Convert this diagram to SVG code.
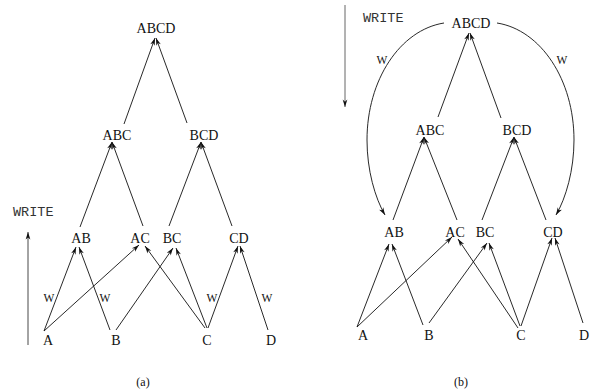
<svg xmlns="http://www.w3.org/2000/svg" width="590" height="390" viewBox="0 0 590 390">
<style>
.n{font-family:"Liberation Serif","Times New Roman",serif;font-size:14px;text-anchor:middle;fill:#111}
.w{font-family:"Liberation Serif","Times New Roman",serif;font-size:11.5px;text-anchor:middle;fill:#111}
.m{font-family:"Liberation Mono","Courier New",monospace;font-size:13.5px;fill:#333}
.c line,.c path{stroke:#111;stroke-width:0.9;fill:none;marker-end:url(#ah)}
</style>
<defs>
<marker id="ah" markerUnits="userSpaceOnUse" markerWidth="10" markerHeight="8" viewBox="-7 -3 8 6" refX="0" refY="0" orient="auto">
<path d="M0,0 L-6,-1.9 L-4.3,0 L-6,1.9 Z" fill="#111"/>
</marker>
</defs>
<g id="panel-a">
<g id="a-ABCD"><text class="n" x="156" y="33">ABCD</text></g>
<g id="a-ABC"><text class="n" x="117" y="140">ABC</text></g>
<g id="a-BCD"><text class="n" x="204" y="140">BCD</text></g>
<g id="a-AB"><text class="n" x="81" y="243">AB</text></g>
<g id="a-AC"><text class="n" x="140" y="243">AC</text></g>
<g id="a-BC"><text class="n" x="172" y="243">BC</text></g>
<g id="a-CD"><text class="n" x="239" y="243">CD</text></g>
<g id="a-A"><text class="n" x="48" y="345">A</text></g>
<g id="a-B"><text class="n" x="116" y="345">B</text></g>
<g id="a-C"><text class="n" x="207" y="345">C</text></g>
<g id="a-D"><text class="n" x="271" y="345">D</text></g>
<text class="m" x="13" y="216">WRITE</text>
<text class="n" x="143" y="386" style="font-size:12px">(a)</text>
</g>
<g id="panel-b">
<g id="b-ABCD"><text class="n" x="471" y="28">ABCD</text></g>
<g id="b-ABC"><text class="n" x="430" y="135">ABC</text></g>
<g id="b-BCD"><text class="n" x="517" y="135">BCD</text></g>
<g id="b-AB"><text class="n" x="394" y="237">AB</text></g>
<g id="b-AC"><text class="n" x="455" y="237">AC</text></g>
<g id="b-BC"><text class="n" x="485" y="237">BC</text></g>
<g id="b-CD"><text class="n" x="553" y="237">CD</text></g>
<g id="b-A"><text class="n" x="363" y="340">A</text></g>
<g id="b-B"><text class="n" x="429" y="340">B</text></g>
<g id="b-C"><text class="n" x="521" y="340">C</text></g>
<g id="b-D"><text class="n" x="584" y="340">D</text></g>
<text class="m" x="363" y="22">WRITE</text>
<text class="n" x="461" y="386" style="font-size:12px">(b)</text>
</g>
<g id="connectors" class="c">
<line x1="28" y1="345" x2="28" y2="232" style="stroke:#333"/>
<line x1="124" y1="124" x2="155" y2="38"/>
<line x1="187" y1="123" x2="156" y2="38"/>
<line x1="80" y1="227" x2="112" y2="142"/>
<line x1="143" y1="226" x2="112" y2="142"/>
<line x1="169" y1="226" x2="201" y2="142"/>
<line x1="232" y1="226" x2="201" y2="142"/>
<line x1="44" y1="331" x2="76" y2="247"/>
<line x1="110" y1="330" x2="79" y2="247"/>
<line x1="44" y1="331" x2="139" y2="245"/>
<line x1="205" y1="328" x2="145" y2="246"/>
<line x1="116" y1="330" x2="173" y2="248"/>
<line x1="207" y1="328" x2="176" y2="248"/>
<line x1="208" y1="328" x2="238" y2="246"/>
<line x1="268" y1="330" x2="240" y2="246"/>
<line x1="345" y1="5" x2="345" y2="107" style="stroke:#555"/>
<line x1="438" y1="117" x2="469" y2="33"/>
<line x1="501" y1="118" x2="470" y2="33"/>
<line x1="393" y1="220" x2="424" y2="137"/>
<line x1="457" y1="220" x2="424" y2="137"/>
<line x1="482" y1="220" x2="514" y2="137"/>
<line x1="546" y1="220" x2="514" y2="137"/>
<line x1="357" y1="327" x2="389" y2="244"/>
<line x1="423" y1="325" x2="392" y2="244"/>
<line x1="357" y1="327" x2="452" y2="237"/>
<line x1="518" y1="328" x2="458" y2="239"/>
<line x1="429" y1="323" x2="487" y2="243"/>
<line x1="520" y1="326" x2="489" y2="243"/>
<line x1="521" y1="326" x2="552" y2="238"/>
<line x1="583" y1="323" x2="555" y2="238"/>
<path d="M444,23 C400,30 367,80 367,140 C367,170 375,198 385,215"/>
<path d="M497,23 C541,30 574,80 574,140 C574,170 566,198 556,215"/>
</g>
<g id="labels">
<text class="w" x="49" y="302">W</text>
<text class="w" x="105" y="302">W</text>
<text class="w" x="212" y="302">W</text>
<text class="w" x="267" y="302">W</text>
<text class="w" x="382" y="64">W</text>
<text class="w" x="562" y="64">W</text>
</g>
</svg>
